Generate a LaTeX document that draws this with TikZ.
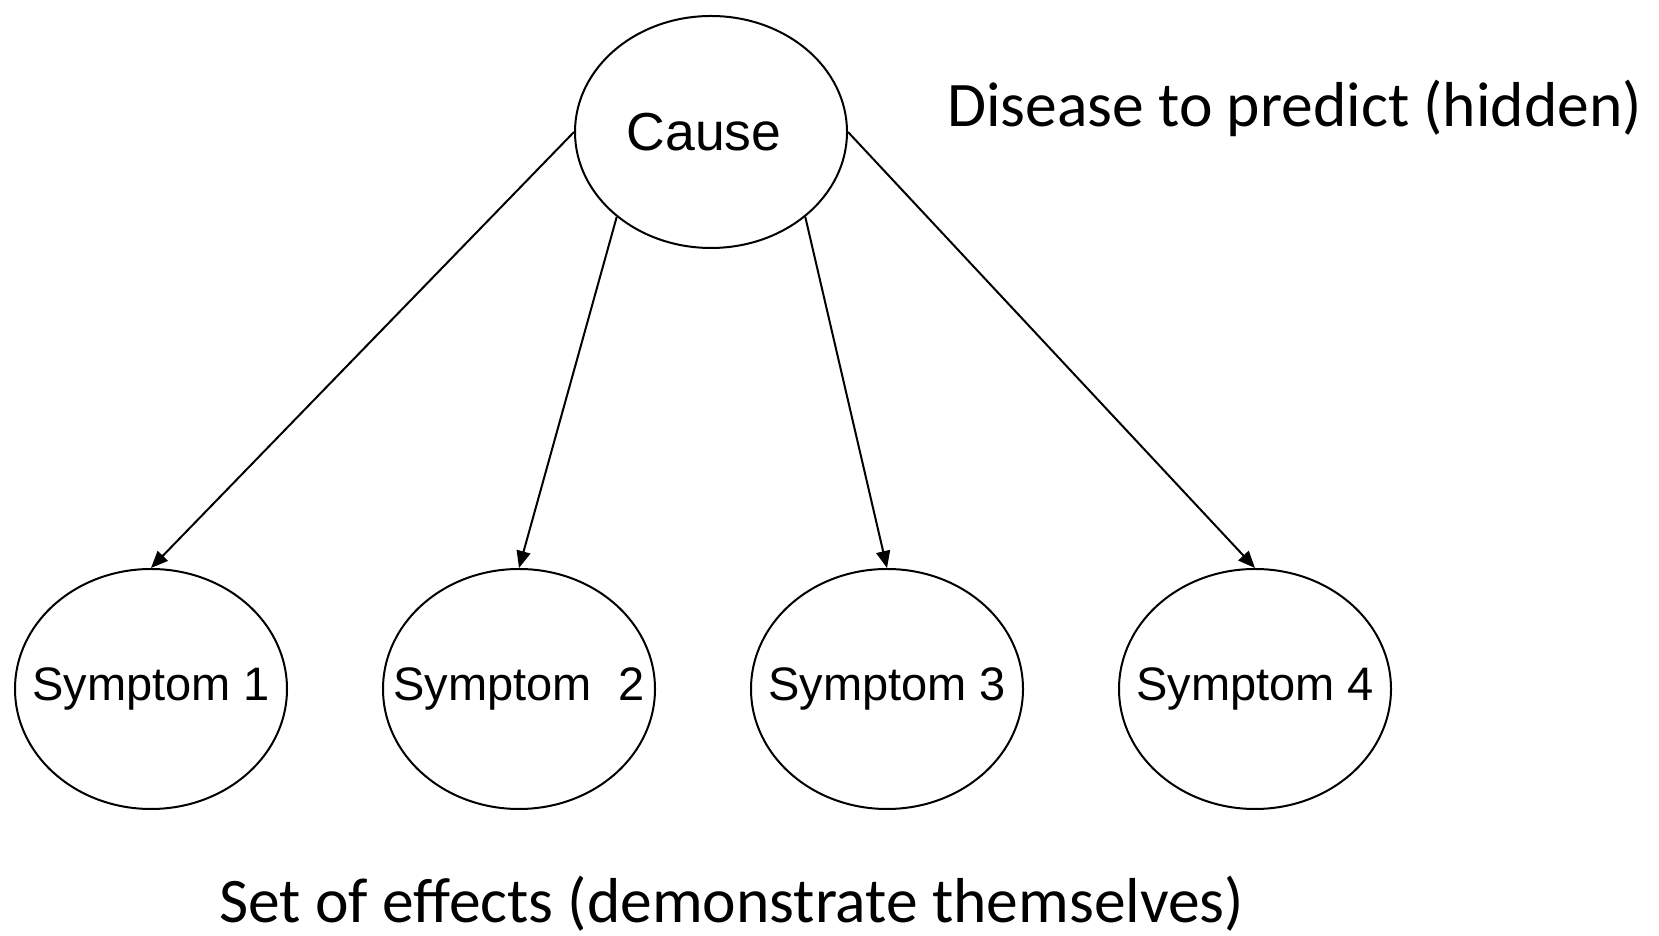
\documentclass[tikz,border=0pt]{standalone}
\usepackage{fontspec}
\setmainfont{Carlito}
\newfontfamily\arialfont{Liberation Sans}
\usepackage{tikz}
\usetikzlibrary{shapes.geometric, arrows.meta}

\begin{document}
\begin{tikzpicture}[x=1pt, y=1pt,
  bubble/.style={draw, ellipse, line width=2pt, minimum width=272pt, minimum height=240pt, inner sep=0pt, font=\arialfont\fontsize{47}{56}\selectfont},
  link/.style={line width=2pt, -{Triangle[length=17pt, width=14pt]}},
  caption/.style={font=\fontsize{63.5}{75}\selectfont, inner sep=0pt}]
\useasboundingbox (0,0) rectangle (1659,936);
\node[bubble, minimum height=232pt, font=\arialfont\fontsize{53.5}{64}\selectfont] (cause) at (711,804) {\makebox[0pt]{Cause\hspace{14pt}}};
\node[bubble] (s1) at (151,247) {\makebox[0pt]{Symptom 1}};
\node[bubble] (s2) at (519,247) {\makebox[0pt]{Symptom\ \ 2}};
\node[bubble] (s3) at (887,247) {\makebox[0pt]{Symptom 3}};
\node[bubble] (s4) at (1255,247) {\makebox[0pt]{Symptom 4}};
\draw[link] (cause.west)--(s1.north);
\draw[link] (cause.222)--(s2.north);
\draw[link] (cause.318)--(s3.north);
\draw[link] (cause.east)--(s4.north);
\node[caption, anchor=base west] (hid) at (947,809) {Disease to predict (hidden)};
\node[caption, anchor=base west] (eff) at (219,13) {Set of effects (demonstrate themselves)};
\end{tikzpicture}
\end{document}
